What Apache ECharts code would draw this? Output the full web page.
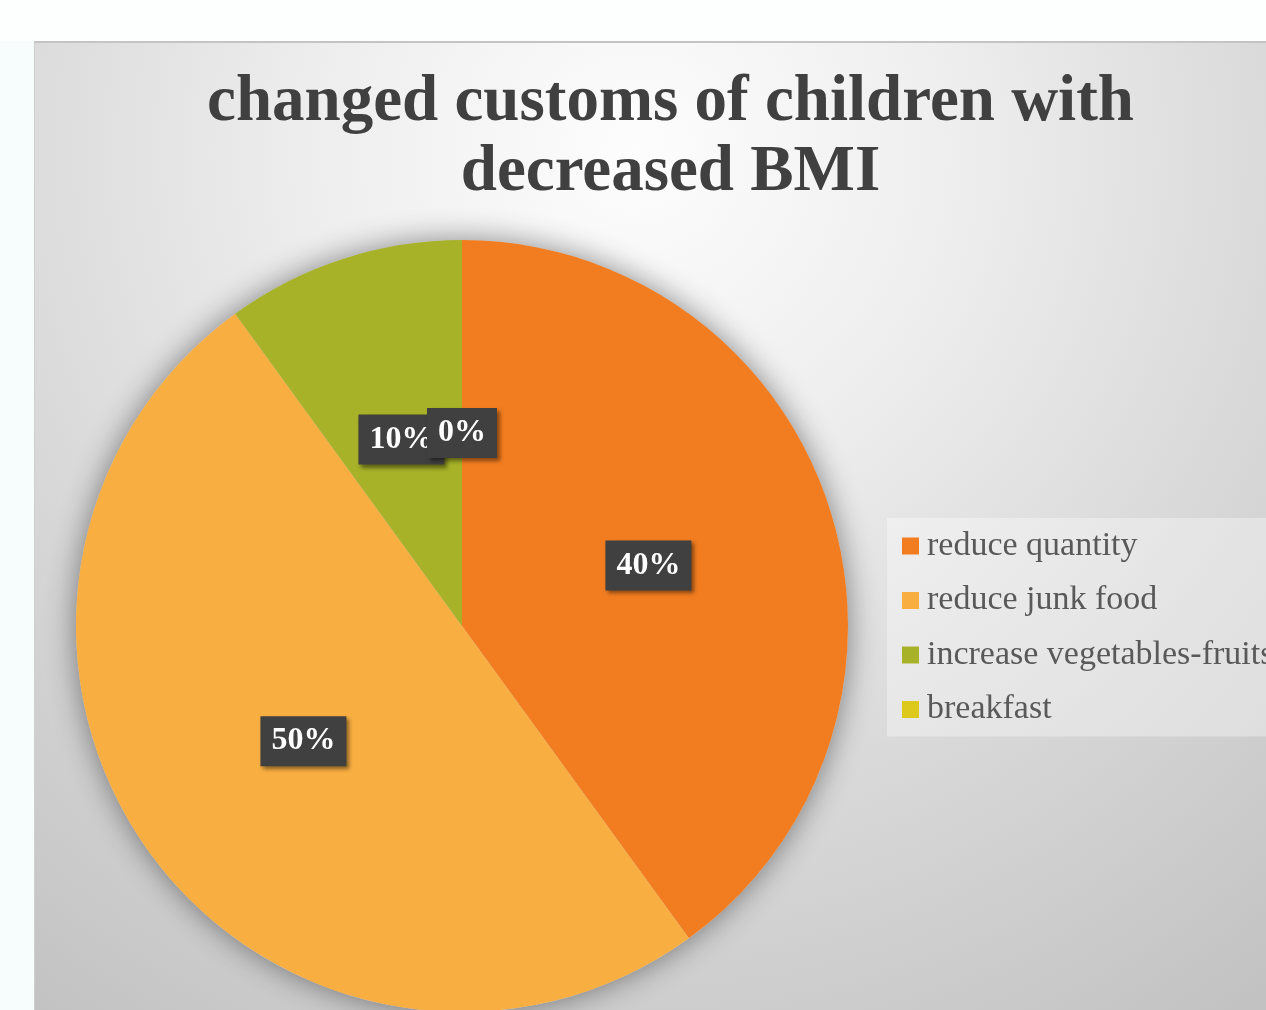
<!DOCTYPE html>
<html>
<head>
<meta charset="utf-8">
<script src="https://cdn.jsdelivr.net/npm/echarts@6/dist/echarts.min.js"></script>
<style>
  html, body { margin: 0; padding: 0; width: 1266px; height: 1010px; overflow: hidden; background: #f6fdfc; }
  #top { position: absolute; left: 0; top: 0; width: 1266px; height: 41px; background: #fdfefe; }
  #chart { position: absolute; left: 34px; top: 41px; width: 1271px; height: 1100px;
    border-top: 2px solid #c4c4c4; border-left: 1px solid #cfcfcf;
    background: radial-gradient(circle at 600px 110px, #fdfdfd 0px, #eeeeee 320px, #d9d9d9 650px, #c2c2c2 1050px); }
</style>
</head>
<body>
<div id="top"></div>
<div id="chart"></div>
<script>
const titleText = 'changed customs of children with\ndecreased BMI';
const categories = ['reduce quantity', 'reduce junk food', 'increase vegetables-fruits', 'breakfast'];
const values = [40, 50, 10, 0];
const colors = ['#f27d20', '#f9ae42', '#a7b228', '#dcc91c'];

const chart = echarts.init(document.getElementById('chart'), null, { renderer: 'canvas' });
const serif = '"Liberation Serif", "DejaVu Serif", serif';
const labelStyle = {
  fontFamily: serif,
  fontSize: 32,
  fontWeight: 'bold',
  color: '#ffffff',
  backgroundColor: '#404040',
  padding: [10, 11, 8, 11],
  shadowColor: 'rgba(0,0,0,0.45)',
  shadowBlur: 4,
  shadowOffsetX: 3,
  shadowOffsetY: 3
};
chart.setOption({
  backgroundColor: 'transparent',
  animation: false,
  title: {
    text: titleText,
    left: 'center',
    top: 20,
    textStyle: { fontFamily: serif, fontSize: 65, fontWeight: 'bold', color: '#404040', lineHeight: 70 }
  },
  legend: {
    data: categories,
    orient: 'vertical',
    left: 852,
    top: 475,
    padding: [11, 60, 10, 15],
    backgroundColor: 'rgba(255,255,255,0.35)',
    itemWidth: 17,
    itemHeight: 17,
    itemGap: 20.5,
    icon: 'rect',
    selectedMode: false,
    textStyle: { fontFamily: serif, fontSize: 34, color: '#595959', lineHeight: 34, padding: [0, 0, 0, 3] }
  },
  series: [
    {
      type: 'pie',
      silent: true,
      center: [427, 583],
      radius: 386,
      z: 1,
      label: { show: false },
      labelLine: { show: false },
      itemStyle: { color: '#d0d0d0', shadowBlur: 30, shadowColor: 'rgba(0,0,0,0.45)' },
      data: [{ value: 1, name: '_shadow' }]
    },
    {
      type: 'pie',
      center: [427, 583],
      radius: 386,
      startAngle: 90,
      clockwise: true,
      z: 2,
      avoidLabelOverlap: false,
      color: colors,
      itemStyle: { borderWidth: 0 },
      label: Object.assign({ show: true, position: 'inside', formatter: p => p.value + '%' }, labelStyle),
      labelLine: { show: false },
      data: categories.map((c, i) => ({ name: c, value: values[i] }))
    }
  ]
});

// Zero-value slices get no label from the pie itself; place their labels at the
// library-computed slice layout (same rule as 'inside': midpoint of mid-angle radius).
const pieData = chart.getModel().getSeriesByIndex(1).getData();
const extra = [];
values.forEach((v, i) => {
  if (v !== 0) return;
  const lay = pieData.getItemLayout(i);
  const mid = (lay.startAngle + lay.endAngle) / 2;
  const rr = ((lay.r || 0) + (lay.r0 || 0)) / 2;
  extra.push({
    type: 'text',
    x: lay.cx + rr * Math.cos(mid),
    y: lay.cy + rr * Math.sin(mid),
    z: 100,
    style: {
      text: v + '%',
      font: 'bold 32px ' + serif,
      fill: labelStyle.color,
      align: 'center',
      verticalAlign: 'middle',
      backgroundColor: labelStyle.backgroundColor,
      padding: labelStyle.padding,
      shadowColor: labelStyle.shadowColor,
      shadowBlur: labelStyle.shadowBlur,
      shadowOffsetX: labelStyle.shadowOffsetX,
      shadowOffsetY: labelStyle.shadowOffsetY
    }
  });
});
chart.setOption({ graphic: extra });
</script>
</body>
</html>
